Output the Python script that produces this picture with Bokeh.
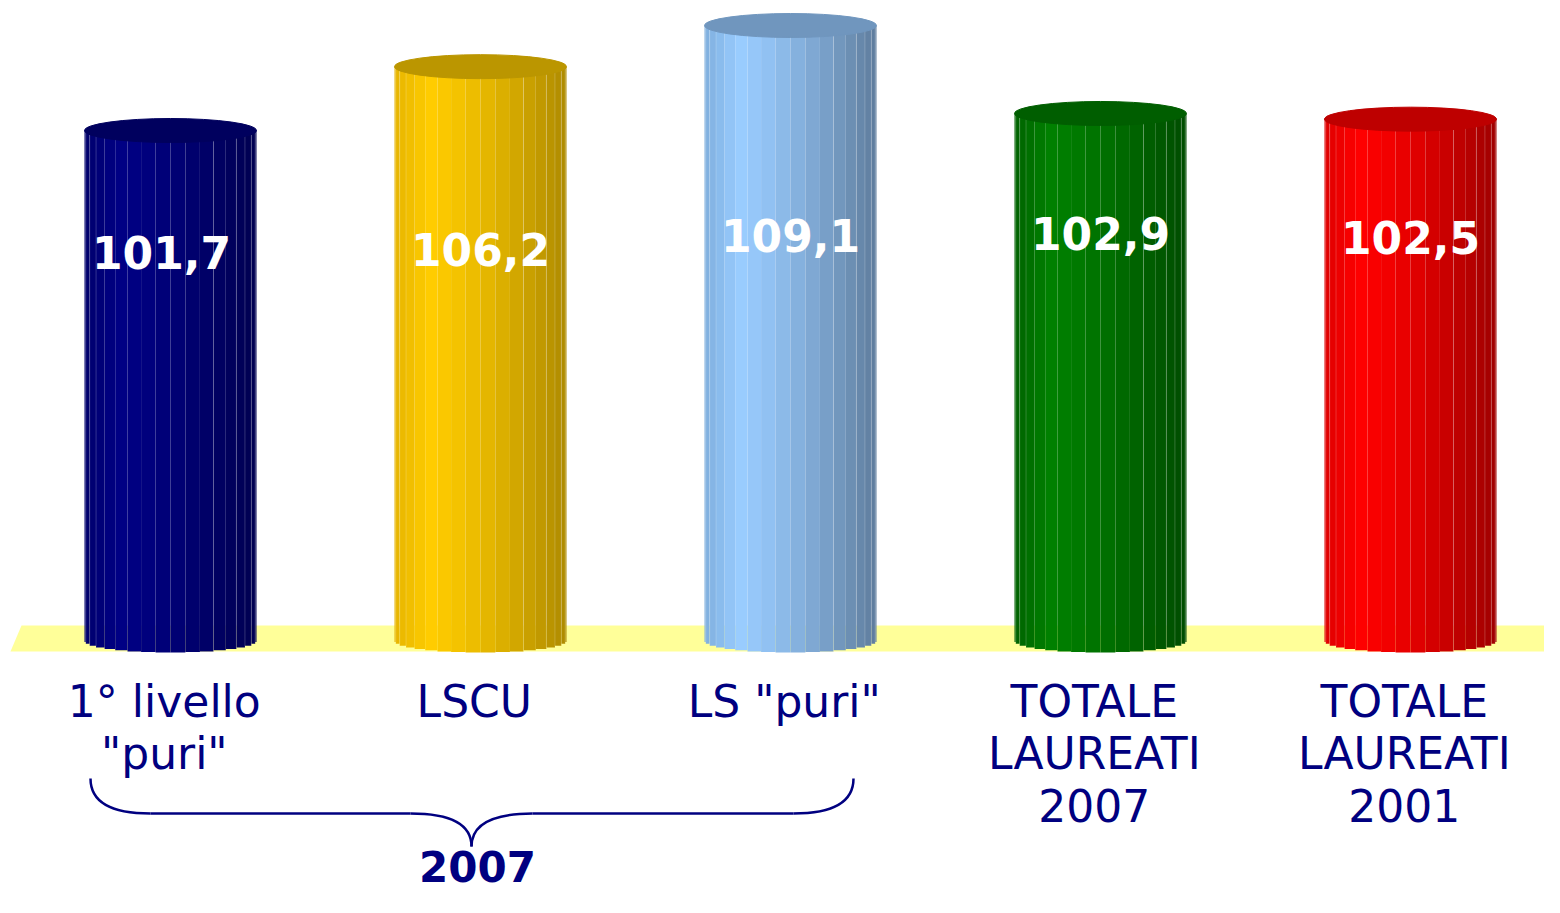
import math
from bokeh.plotting import figure
from bokeh.models import Range1d
from bokeh.core.properties import value
from bokeh.embed import file_html
from bokeh.resources import INLINE

# ---------------- data ----------------
categories = ['1° livello\n"puri"', 'LSCU', 'LS "puri"',
              'TOTALE\nLAUREATI\n2007', 'TOTALE\nLAUREATI\n2001']
values = [101.7, 106.2, 109.1, 102.9, 102.5]
value_labels = ["101,7", "106,2", "109,1", "102,9", "102,5"]
group_label = "2007"

# ---------------- style ----------------
W, H = 1544, 897
XR = (-0.5484, 4.4323)
YR = (47.648, 110.862)
FONT = "DejaVu Sans"
NAVY = "#000080"

# colours per cylinder: (left edge, brightest, right edge, top face)
bar_colors = [
    ("#00006C", "#000084", "#000050", "#00005E"),
    ("#E6B400", "#FFCC00", "#AE8A00", "#BB9600"),
    ("#7EAEDD", "#99CCFF", "#5E7C9C", "#7096BE"),
    ("#006200", "#008000", "#004C00", "#005E00"),
    ("#DE0000", "#FF0000", "#9E0000", "#BE0000"),
]
label_py = [252, 249, 235, 233, 237]   # pixel centres of value labels
label_dpx = [-9, 0, 0, 0, 0]           # pixel x shifts of value labels


def dx(px):
    return XR[0] + px / W * (XR[1] - XR[0])


def dy(py):
    return YR[1] - py / H * (YR[1] - YR[0])


px_per_unit = H / (YR[1] - YR[0])
unit_per_px_x = (XR[1] - XR[0]) / W
BASE = dy(640)
BW = 172 / 310
EH = 24 / px_per_unit


def hex2rgb(h):
    h = h.lstrip("#")
    return tuple(int(h[i:i + 2], 16) for i in (0, 2, 4))


def mix(a, b, t):
    a, b = hex2rgb(a), hex2rgb(b)
    return "#%02x%02x%02x" % tuple(int(round(a[i] + (b[i] - a[i]) * t)) for i in range(3))


def shade(cols, t):
    left, bright, right, _ = cols
    tb = 0.2
    if t <= tb:
        return mix(left, bright, t / tb)
    s = (t - tb) / (1 - tb)
    return mix(bright, right, s ** 1.3)


p = figure(width=W, height=H, x_range=Range1d(*XR), y_range=Range1d(*YR),
           output_backend="svg", toolbar_location=None, min_border=0,
           outline_line_color=None, background_fill_color="white",
           border_fill_color="white")
p.xaxis.visible = False
p.yaxis.visible = False
p.xgrid.visible = False
p.ygrid.visible = False

# floor
p.patch([dx(10), dx(21), dx(1560), dx(1560)], [dy(651), dy(625), dy(625), dy(651)],
        fill_color="#FFFF99", line_color=None)

# cylinders
N = 18
line_facets = {1, 2, 3, 12, 14, 15, 16, 17}
xs, ws, tops, bots, cols = [], [], [], [], []
lx, ly0, ly1 = [], [], []
for i, v in enumerate(values):
    for k in range(N):
        u0 = -math.cos(math.pi * k / N)
        u1 = -math.cos(math.pi * (k + 1) / N)
        uc = (u0 + u1) / 2
        xl, xr = i + u0 * BW / 2, i + u1 * BW / 2
        xs.append((xl + xr) / 2)
        ws.append(xr - xl)
        tops.append(v)
        bots.append(BASE - EH / 2 * math.sqrt(max(0.0, 1 - uc * uc)))
        cols.append(shade(bar_colors[i], (uc + 1) / 2))
        if k in line_facets:
            lx.append(xl)
            ly0.append(BASE - EH / 2 * math.sqrt(max(0.0, 1 - u0 * u0)))
            ly1.append(v)

p.vbar(x=xs, width=ws, top=tops, bottom=bots, fill_color=cols, line_color=None)
p.segment(x0=lx, y0=ly0, x1=lx, y1=ly1, line_color="white", line_alpha=0.18, line_width=1)
p.ellipse(x=list(range(len(values))), y=values, width=BW, height=EH,
          fill_color=[c[3] for c in bar_colors], line_color=[c[3] for c in bar_colors],
          line_width=1)

# value labels
p.text(x=[i + d * unit_per_px_x for i, d in enumerate(label_dpx)],
       y=[dy(py) for py in label_py], text=value_labels,
       text_color="white", text_font=value(FONT), text_font_style="bold",
       text_font_size="44px", text_align="center", text_baseline="middle")

# category labels
cx, cy, ct = [], [], []
for i, c in enumerate(categories):
    for j, line in enumerate(c.split("\n")):
        cx.append(i - 0.02)
        cy.append(dy(701 + 52 * j))
        ct.append(line)
p.text(x=cx, y=cy, text=ct, text_color=NAVY, text_font=value(FONT),
       text_font_size="44px", text_align="center", text_baseline="middle")

# brace under the first three categories
lw = 2.5
p.quadratic(x0=[dx(90), dx(410), dx(532), dx(793)],
            y0=[dy(778), dy(813), dy(813), dy(813)],
            cx=[dx(90), dx(471), dx(471), dx(853)],
            cy=[dy(813), dy(813), dy(813), dy(813)],
            x1=[dx(150), dx(471), dx(471), dx(853)],
            y1=[dy(813), dy(846), dy(846), dy(778)],
            line_color=NAVY, line_width=lw)
p.segment(x0=[dx(150), dx(532)], y0=[dy(813), dy(813)],
          x1=[dx(410), dx(793)], y1=[dy(813), dy(813)],
          line_color=NAVY, line_width=lw)

p.text(x=[dx(477)], y=[dy(866)], text=[group_label], text_color=NAVY,
       text_font=value(FONT), text_font_style="bold", text_font_size="42px",
       text_align="center", text_baseline="middle")

open("out.html", "w").write(file_html(p, INLINE))
